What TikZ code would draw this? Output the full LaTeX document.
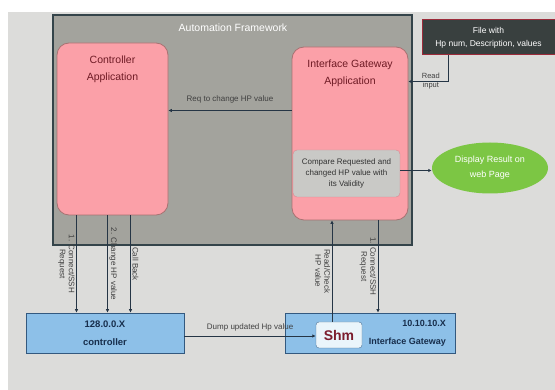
\documentclass[tikz,border=0pt]{standalone}
\usepackage{fontspec}
\setmainfont{Liberation Sans}
\usetikzlibrary{arrows.meta,shapes.geometric}
\definecolor{bggray}{HTML}{DCDCDA}
\definecolor{framegray}{HTML}{A3A39D}
\definecolor{framedge}{HTML}{34444A}
\definecolor{apppink}{HTML}{FBA0A8}
\definecolor{appedge}{HTML}{A87272}
\definecolor{apptext}{HTML}{6E1A24}
\definecolor{cmpgray}{HTML}{C9C9C6}
\definecolor{cmpedge}{HTML}{D98890}
\definecolor{filedark}{HTML}{39403F}
\definecolor{fileedge}{HTML}{9C2B3A}
\definecolor{dispgreen}{HTML}{7CC644}
\definecolor{hostblue}{HTML}{8DC0E8}
\definecolor{hostedge}{HTML}{33597F}
\definecolor{hosttext}{HTML}{172E4C}
\definecolor{shmfill}{HTML}{EAF5FB}
\definecolor{shmedge}{HTML}{4C7092}
\definecolor{shmtext}{HTML}{7B1D2E}
\definecolor{linecol}{HTML}{253545}
\newcommand{\setfs}[2]{\fontsize{#1}{#2}\selectfont}
\begin{document}
\begin{tikzpicture} [
                x=1pt, y=-1pt,
                frame/.style={draw=framedge, fill=framegray, line width=1.2pt, inner sep=0pt},
                title/.style={text=white, font=\setfs{10.5}{13}},
                app/.style={draw=appedge, fill=apppink, rounded corners=12pt, line width=0.8pt, inner sep=0pt},
                apptitle/.style={anchor=north, yshift=-10pt, align=center, text=apptext, font=\setfs{10.5}{17}},
                cmpbox/.style={draw=cmpedge, fill=cmpgray, rounded corners=4pt, minimum width=107pt, minimum height=47pt,
                    align=center, text=black!80, font=\setfs{8}{11}, inner sep=0pt},
                filebox/.style={draw=fileedge, fill=filedark, line width=1pt, minimum width=133pt, minimum height=35pt,
                    align=center, text=white, font=\setfs{8.5}{13}, inner sep=0pt},
                disp/.style={ellipse, fill=dispgreen, minimum width=116pt, minimum height=51pt, inner sep=0pt,
                    align=center, text=white, font=\setfs{9}{15}},
                host/.style={draw=hostedge, fill=hostblue, line width=0.8pt, minimum height=40pt, inner sep=0pt,
                    align=center, text=hosttext, font=\setfs{9.5}{18}\bfseries},
                hosttext/.style={align=right, text=hosttext, font=\setfs{9}{18}\bfseries},
                shmbox/.style={draw=shmedge, fill=shmfill, rounded corners=3pt, minimum width=46pt, minimum height=26pt,
                    text=shmtext, font=\setfs{14}{17}\bfseries, inner sep=0pt},
                link/.style={draw=linecol, line width=0.9pt, -{Latex[length=3.5pt,width=3.5pt]}},
                linklabel/.style={text=black!75, font=\setfs{8}{10}, inner sep=1.5pt},
                vlabel/.style={rotate=-90, align=center, text=black!75, font=\setfs{8}{9}, inner sep=1.5pt},
            ]
            \useasboundingbox (0,0) rectangle (555,390);
            \fill[bggray] (8,12) rectangle (555,390);
            \node[frame, minimum width=359pt, minimum height=230pt] (fw) at (232.5,130) {};
            \node[title] (fwtitle) at (233,28) {Automation Framework};
            \node[app, minimum width=111pt, minimum height=172pt,
                label={[apptitle]north:Controller\\Application}] (capp) at (112.5,129) {};
            \node[app, minimum width=116pt, minimum height=173pt,
                label={[apptitle]north:Interface Gateway\\Application}] (iapp) at (350,133.5) {};
            \node[cmpbox] (cmp) at (346.5,173.5) {Compare Requested and\\changed HP value with\\its Validity};
            \node[filebox] (file) at (488.5,37.5) {File with\\Hp num, Description, values};
            \node[disp] (disp) at (490,168) {Display Result on\\web Page};
            \node[host, minimum width=158pt] (ctrl) at (105,333) {128.0.0.X\\controller};
            \node[host, minimum width=170pt,
                label={[hosttext, anchor=east, xshift=-6pt]east:10.10.10.X\\Interface Gateway}] (igw) at (370,333) {};
            \node[shmbox] (shm) at (339,335) {Shm};

            \draw[link] ([yshift=23pt]iapp.west) -- ([yshift=23pt]iapp.west -| capp.east)
                node[linklabel, midway, above, yshift=5pt] {Req to change HP value};
            \draw[link] ([xshift=-40pt]file.south) |- ([yshift=52pt]iapp.east)
                node[linklabel, pos=0.72, align=center, font=\setfs{7.5}{9}] {Read\\input};
            \draw[link] ([yshift=3pt]cmp.east) -- ([yshift=3pt]cmp.east -| disp.west);
            \draw[link] ([yshift=-3pt]ctrl.east) -- ([yshift=-3pt]ctrl.east -| shm.west)
                node[linklabel, midway, above, yshift=3pt] {Dump updated Hp value};
            \foreach \dx/\anc/\txt in {
                -36/north/{1. Connect/SSH\\Request}, -5/south/{2. Change HP value}, 18/south/{Call Back}}
                \draw[link] ([xshift=\dx pt]capp.south) -- ([xshift=\dx pt]capp.south |- ctrl.north)
                    node[vlabel, midway, anchor=\anc] {\txt};
            \draw[link] ([xshift=-7pt]shm.north) -- ([xshift=-7pt]shm.north |- iapp.south)
                node[vlabel, midway, anchor=north] {Read/Check\\HP value};
            \draw[link] ([xshift=28pt]iapp.south) -- ([xshift=28pt]iapp.south |- igw.north)
                node[vlabel, midway, anchor=north] {1. Connect/SSH\\Request};
        \end{tikzpicture}
\end{document}
